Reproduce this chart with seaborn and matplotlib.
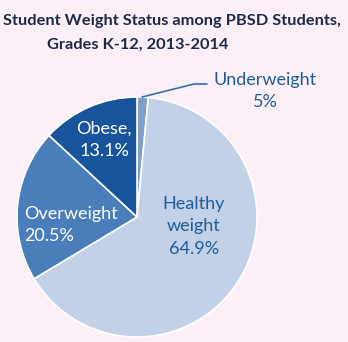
import matplotlib
matplotlib.use("Agg")
import matplotlib.pyplot as plt
import seaborn as sns

categories = ["Underweight", "Healthy weight", "Overweight", "Obese"]
values = [1.5, 64.9, 20.5, 13.1]
label_texts = ["Underweight\n5%", "Healthy\nweight\n64.9%", "Overweight\n20.5%", "Obese,\n13.1%"]
colors = ["#7F9FC9", "#C3D1E8", "#4A7EBB", "#17549B"]

sns.set_style("white")
plt.rcParams['font.family'] = ['Lato', 'DejaVu Sans']
bg = "#FBF0F8"

fig = plt.figure(figsize=(3.48, 3.42), dpi=100, facecolor=bg)
W, H = 348, 342
cx, cy, R = 137, 217, 120
ax = fig.add_axes([(cx - R) / W, (H - cy - R) / H, 2 * R / W, 2 * R / H])
ax.set_facecolor(bg)
ax.pie(values, colors=colors, startangle=90, counterclock=False, radius=1,
       wedgeprops=dict(edgecolor="white", linewidth=1.2))
ax.set_xlim(-1, 1)
ax.set_ylim(-1, 1)
ax.set_aspect("equal")
ax.axis("off")

def d(px, py):
    return ((px - cx) / R, (cy - py) / R)

lab_blue = "#1F5C99"
fs = 13
ls = 1.5
# Underweight leader line
p0, p1, p2 = d(142, 97), d(194, 84), d(207, 84)
ax.plot([p0[0], p1[0], p2[0]], [p0[1], p1[1], p2[1]], color="#3C6EA8", lw=1.2, clip_on=False)
ax.text(*d(265, 91), label_texts[0], ha="center", va="center", color=lab_blue,
        fontsize=fs, linespacing=ls, clip_on=False)
ax.text(*d(194, 226), label_texts[1], ha="center", va="center", color=lab_blue,
        fontsize=fs, linespacing=ls)
ax.text(*d(24, 225), label_texts[2], ha="left", va="center", color="white",
        fontsize=fs, linespacing=ls)
ax.text(*d(104, 140), label_texts[3], ha="center", va="center", color="white",
        fontsize=fs, linespacing=ls)

title_color = "#1C2A48"
fig.text(172 / W, 1 - 21 / H, "Student Weight Status among PBSD Students,", ha="center", va="center",
         fontsize=11.8, fontweight="bold", color=title_color)
fig.text(138 / W, 1 - 45 / H, "Grades K-12, 2013-2014", ha="center", va="center",
         fontsize=11.8, fontweight="bold", color=title_color)

fig.savefig("out.png", dpi=100, facecolor=bg)
